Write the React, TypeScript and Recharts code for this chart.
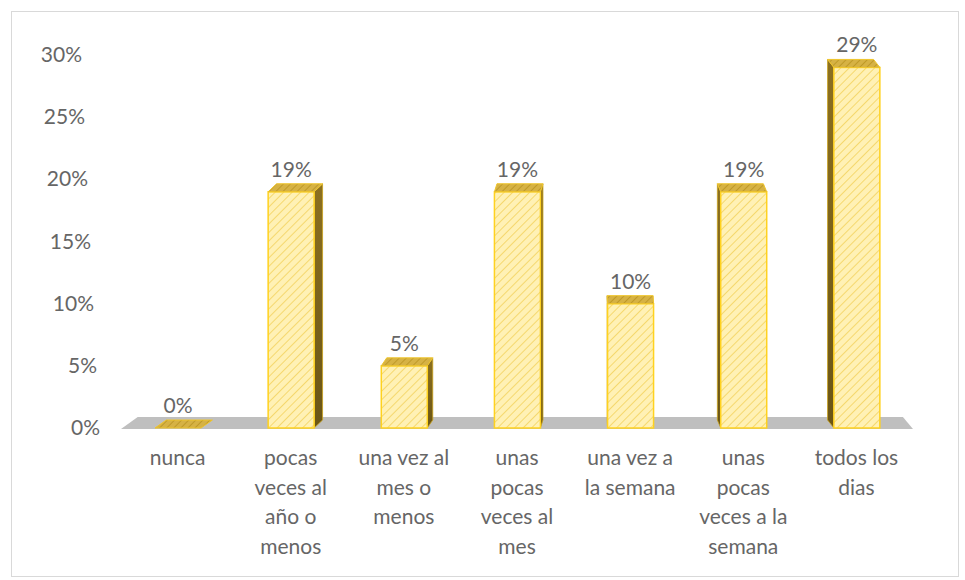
import { BarChart, Bar, XAxis, YAxis, LabelList, ReferenceLine } from 'recharts';

// categories (line breaks as in the original wrapped labels)
const categories = [
  'nunca',
  'pocas\nveces al\naño o\nmenos',
  'una vez al\nmes o\nmenos',
  'unas\npocas\nveces al\nmes',
  'una vez a\nla semana',
  'unas\npocas\nveces a la\nsemana',
  'todos los\ndias',
];
const percents = [0, 19, 5, 19, 10, 19, 29];
const yTicks = [0, 5, 10, 15, 20, 25, 30];

const data = categories.map((name, i) => ({ name, value: percents[i] }));

const FONT = 'Lato, "Open Sans", sans-serif';
const TEXT = '#666666';
const FS = 21;

// plot box shared by both layers
const W = 965;
const H = 580;
const PLOT = { top: 55, right: 52, left: 121, bottom: 152 };

// fake perspective
const VP = 615;
const K = 0.026;
const DEPTH = 8;

const Bar3D = (props: any) => {
  const { x, y, width, height } = props;
  const cx = x + width / 2;
  const dx = (VP - cx) * K;
  const bottom = y + height;
  const r = x + width;
  const top = `${x},${y} ${r},${y} ${r + dx},${y - DEPTH} ${x + dx},${y - DEPTH}`;
  const side = dx > 0
    ? `${r},${y} ${r + dx},${y - DEPTH} ${r + dx},${bottom - DEPTH} ${r},${bottom}`
    : `${x},${y} ${x + dx},${y - DEPTH} ${x + dx},${bottom - DEPTH} ${x},${bottom}`;
  return (
    <g>
      {height > 0 && <polygon points={side} fill="url(#sideGrad)" stroke="#C9A21A" strokeWidth={0.8} />}
      {height > 0 && (
        <rect x={x} y={y} width={width} height={height} fill="url(#hatchFront)" stroke="#FFD21F" strokeWidth={1.5} />
      )}
      <polygon points={top} fill="url(#hatchTop)" stroke="#EFC52A" strokeWidth={1} />
    </g>
  );
};

const Floor = (props: any) => {
  const { x1, x2, y1 } = props;
  const back = y1 - 11;
  const front = y1 + 1;
  const pts = `${x1},${front} ${x2},${front} ${x2 + (VP - x2) * K * 1.3},${back} ${x1 + (VP - x1) * K * 1.3},${back}`;
  return <polygon points={pts} fill="#BFBFBF" />;
};

const YTick = (props: any) => {
  const { x, y, payload } = props;
  const shift = (30 - payload.value) * 0.6;
  return (
    <text x={x - 31 + shift} y={y} dy={7} textAnchor="end" fill={TEXT} fontSize={FS} fontFamily={FONT}>
      {payload.value}%
    </text>
  );
};

const XTick = (props: any) => {
  const { x, y, payload } = props;
  const lines = String(payload.value).split('\n');
  return (
    <text x={x} y={y} textAnchor="middle" fill={TEXT} fontSize={FS} fontFamily={FONT}>
      {lines.map((l, i) => (
        <tspan key={i} x={x} y={y + 29 + i * 29.5}>{l}</tspan>
      ))}
    </text>
  );
};

const Nothing = () => <g />;

export default function App() {
  return (
    <div style={{ position: 'absolute', left: 0, top: 0, width: W, height: H, background: '#fff' }}>
      <div
        style={{
          position: 'absolute',
          left: 11,
          top: 11,
          width: 946,
          height: 564,
          border: '1px solid #D9D9D9',
        }}
      />
      {/* back layer: axes + floor */}
      <div style={{ position: 'absolute', left: 0, top: 0 }}>
        <BarChart
          width={W}
          height={H}
          data={data}
          margin={{ top: PLOT.top, right: PLOT.right, left: PLOT.left - 100, bottom: 0 }}
        >
          <XAxis
            dataKey="name"
            axisLine={false}
            tickLine={false}
            interval={0}
            height={PLOT.bottom}
            tick={<XTick />}
          />
          <YAxis
            domain={[0, 30]}
            ticks={yTicks}
            axisLine={false}
            tickLine={false}
            width={100}
            tick={<YTick />}
          />
          <Bar dataKey="value" barSize={46} shape={<Nothing />} isAnimationActive={false} />
          <ReferenceLine y={0} shape={<Floor />} />
        </BarChart>
      </div>
      {/* front layer: bars + labels */}
      <div style={{ position: 'absolute', left: 0, top: 0 }}>
        <BarChart width={W} height={H} data={data} margin={PLOT}>
          <defs>
            <pattern id="hatchFront" width="6" height="6" patternUnits="userSpaceOnUse" patternTransform="rotate(45)">
              <rect width="6" height="6" fill="#FFF1B5" />
              <line x1="0" y1="0" x2="0" y2="6" stroke="#F5D86E" strokeWidth="2" />
            </pattern>
            <pattern id="hatchTop" width="5" height="5" patternUnits="userSpaceOnUse" patternTransform="rotate(45)">
              <rect width="5" height="5" fill="#D6B244" />
              <line x1="0" y1="0" x2="0" y2="5" stroke="#B8921E" strokeWidth="1.5" />
            </pattern>
            <linearGradient id="sideGrad" x1="0" y1="0" x2="0" y2="1">
              <stop offset="0%" stopColor="#8C7020" />
              <stop offset="100%" stopColor="#6A5516" />
            </linearGradient>
          </defs>
          <XAxis dataKey="name" hide />
          <YAxis domain={[0, 30]} ticks={yTicks} hide />
          <Bar dataKey="value" barSize={46} shape={<Bar3D />} isAnimationActive={false}>
            <LabelList
              dataKey="value"
              position="top"
              offset={15}
              formatter={(v: any) => `${v}%`}
              fill={TEXT}
              fontSize={FS}
              fontFamily={FONT}
            />
          </Bar>
        </BarChart>
      </div>
    </div>
  );
}
